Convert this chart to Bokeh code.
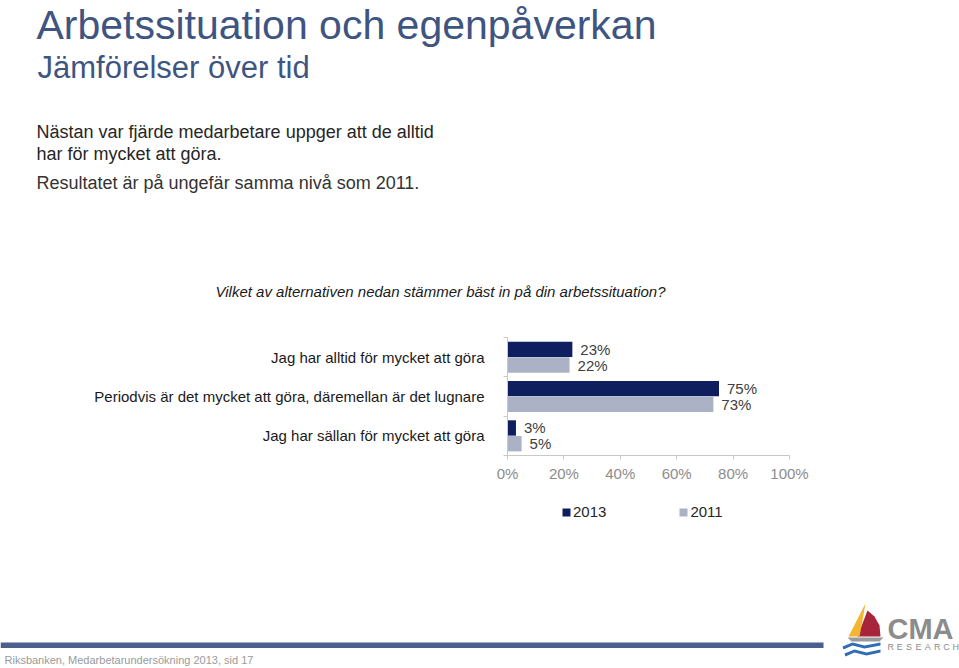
from bokeh.plotting import figure
from bokeh.models import (Range1d, FixedTicker, PrintfTickFormatter, Legend, LegendItem,
                          ColumnDataSource, LinearAxis)
from bokeh.transform import dodge
from bokeh.embed import file_html
from bokeh.resources import INLINE
from bokeh.core.properties import value

# ---------------- data ----------------
title = "Arbetssituation och egenpåverkan"
subtitle = "Jämförelser över tid"
body_lines = ["Nästan var fjärde medarbetare uppger att de alltid",
              "har för mycket att göra.",
              "Resultatet är på ungefär samma nivå som 2011."]
question = "Vilket av alternativen nedan stämmer bäst in på din arbetssituation?"
categories = ["Jag har alltid för mycket att göra",
              "Periodvis är det mycket att göra, däremellan är det lugnare",
              "Jag har sällan för mycket att göra"]
series_names = ["2013", "2011"]
values_2013 = [23, 75, 3]
values_2011 = [22, 73, 5]
x_ticks = [0, 20, 40, 60, 80, 100]
footer = "Riksbanken, Medarbetarundersökning 2013, sid 17"
logo_name = "CMA"
logo_sub = "RESEARCH"

# ---------------- layout / style ----------------
FONT = "Liberation Sans"
DARK = "#0E1E5E"
LIGHT = "#ABB2C6"
TITLE_C = "#3F5581"
W, H = 959, 668
# chart plotting box on the canvas (pixels)
BOX_L, BOX_R, BOX_T, BOX_B = 507, 789, 337, 455
XMAX = 100
n = len(categories)

xu = (BOX_R - BOX_L) / XMAX          # px per percent
yu = (BOX_B - BOX_T) / n             # px per category
x_range = Range1d(-BOX_L / xu, (W - BOX_L) / xu)
y_range = Range1d(-(H - BOX_B) / yu, n + BOX_T / yu)

p = figure(width=W, height=H, x_range=x_range, y_range=y_range,
           output_backend="svg", toolbar_location=None,
           x_axis_location=None, y_axis_location=None, min_border=0)
p.xgrid.visible = False
p.ygrid.visible = False
p.outline_line_color = None
p.extra_x_ranges = {"px": Range1d(0, W)}
p.extra_y_ranges = {"px": Range1d(H, 0)}


def txt(x, y, text, size, color, style="normal", align="left"):
    p.text(x=x if isinstance(x, list) else [x], y=y if isinstance(y, list) else [y],
           text=text if isinstance(text, list) else [text],
           x_range_name="px", y_range_name="px",
           text_font=value(FONT), text_font_size=size, text_color=color,
           text_font_style=style, text_align=align, text_baseline="middle")


# ---------------- header ----------------
txt(36, 24, title, "41px", TITLE_C)
txt(37, 67, subtitle, "31px", TITLE_C)
txt(36, 131.5, body_lines[0], "18px", "#262626")
txt(36, 153, body_lines[1], "18px", "#262626")
txt(36, 182, body_lines[2], "18px", "#333333")
txt(215, 291, question, "15px", "#1a1a1a", style="italic")

# ---------------- chart ----------------
ypos = [n - i - 0.5 for i in range(n)]
src = ColumnDataSource(dict(
    y=ypos, v13=values_2013, v11=values_2011,
    l13=[f"{v}%" for v in values_2013], l11=[f"{v}%" for v in values_2011]))

r13 = p.hbar(y=dodge("y", 0.2), left=0, right="v13", height=0.39, source=src,
             fill_color=DARK, line_color=None)
r11 = p.hbar(y=dodge("y", -0.2), left=0, right="v11", height=0.39, source=src,
             fill_color=LIGHT, line_color=None)
for col, lab, off in (("v13", "l13", 0.2), ("v11", "l11", -0.2)):
    p.text(x=col, y=dodge("y", off), text=lab, source=src, x_offset=8,
           text_baseline="middle", text_align="left",
           text_font=value(FONT), text_font_size="15px", text_color="#404040")

xa = LinearAxis(fixed_location=0, bounds=(0, XMAX),
                ticker=FixedTicker(ticks=x_ticks, minor_ticks=[]),
                formatter=PrintfTickFormatter(format="%d%%"))
xa.axis_line_color = "#c8c8c8"
xa.major_tick_line_color = "#c8c8c8"
xa.major_tick_out = 4
xa.major_tick_in = 0
xa.major_label_standoff = 5
xa.major_label_text_font = FONT
xa.major_label_text_font_size = "15px"
xa.major_label_text_color = "#8c8c8c"
p.add_layout(xa, "below")

ya = LinearAxis(fixed_location=0, bounds=(0, n),
                ticker=FixedTicker(ticks=ypos, minor_ticks=list(range(n + 1))))
ya.major_label_overrides = {y: c for y, c in zip(ypos, categories)}
ya.axis_line_color = "#c8c8c8"
ya.major_tick_line_color = None
ya.major_tick_out = 0
ya.major_tick_in = 0
ya.minor_tick_line_color = "#c8c8c8"
ya.minor_tick_out = 4
ya.minor_tick_in = 0
ya.major_label_standoff = 19
ya.major_label_text_font = FONT
ya.major_label_text_font_size = "15px"
ya.major_label_text_color = "#1a1a1a"
p.add_layout(ya, "left")

legend = Legend(items=[LegendItem(label=series_names[0], renderers=[r13]),
                       LegendItem(label=series_names[1], renderers=[r11])],
                location=(561, H - 520), orientation="horizontal",
                glyph_width=10, glyph_height=10, label_standoff=2, spacing=72,
                padding=0, margin=0, border_line_color=None, background_fill_alpha=0,
                label_text_font=FONT, label_text_font_size="15px", label_text_color="#262626")
p.add_layout(legend)

# ---------------- footer ----------------
p.quad(left=[0], right=[823], top=[642], bottom=[647.5], x_range_name="px", y_range_name="px",
       fill_color="#4A5F8E", line_color=None)
txt(4, 659, footer, "11px", "#9a9a9a")
# logo
p.patches(xs=[[867, 874, 879, 880, 857], [865, 848, 859, 862]],
          ys=[[610, 616, 625, 636, 636], [603, 636, 636, 620]],
          x_range_name="px", y_range_name="px",
          fill_color=["#A8243A", "#F2B632"], line_color=None)
p.patches(xs=[[847, 883, 879, 851]], ys=[[637, 637, 641, 641]],
          x_range_name="px", y_range_name="px", fill_color="#9a9a9a", line_color=None)
p.patches(xs=[[842, 852, 864, 880, 880, 864, 852, 843], [844, 854, 866, 880, 880, 866, 854, 845]],
          ys=[[646, 642, 645, 642, 645, 648, 645, 649], [653, 649, 652, 649, 652, 655, 652, 656]],
          x_range_name="px", y_range_name="px", fill_color="#2F6DB5", line_color=None)
txt(887, 628, logo_name, "29px", "#8c8c8c", style="bold")
txt([887 + 9.3 * i for i in range(len(logo_sub))], [646] * len(logo_sub),
    list(logo_sub), "9px", "#8c8c8c")

open("out.html", "w").write(file_html(p, INLINE))
